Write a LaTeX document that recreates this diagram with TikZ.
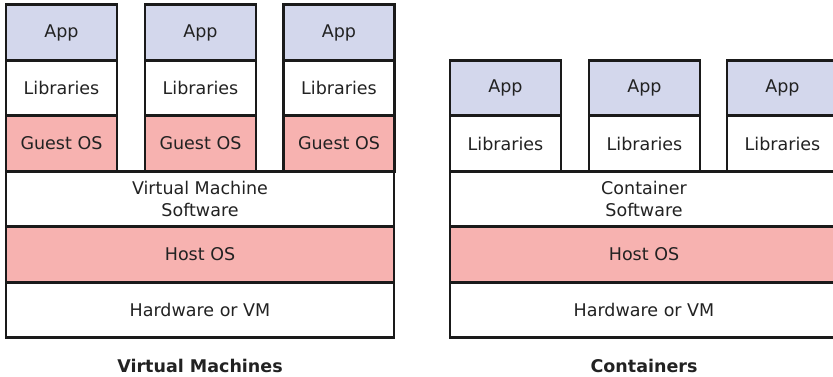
\documentclass[tikz,border=0pt]{standalone}
\usepackage{fontspec}
\setmainfont{DejaVu Sans}
\definecolor{linec}{HTML}{1A1A1A}
\definecolor{appc}{HTML}{D3D7EC}
\definecolor{osc}{HTML}{F7B2B0}
\definecolor{txtc}{HTML}{222222}
\begin{document}
\begin{tikzpicture}[x=1pt,y=-1pt,
  layer/.style={draw=linec, line width=2.6pt, rectangle, inner sep=0pt, outer sep=0pt,
    text=txtc, font=\fontsize{17.5}{22}\selectfont, align=center},
  col/.style={layer, minimum width=111pt, minimum height=55.5pt},
  wide/.style={layer, minimum width=388pt, minimum height=55.5pt},
  appbox/.style={col, fill=appc},
  libbox/.style={col, fill=white},
  guestbox/.style={col, fill=osc},
  whitewide/.style={wide, fill=white},
  hostwide/.style={wide, fill=osc},
  caption/.style={font=\bfseries\fontsize{17.5}{22}\selectfont, text=txtc}]
\useasboundingbox (0,0) rectangle (833,376);
% Virtual machines stack
\node[hostwide] (vmhost) at (200,254.5) {Host OS};
\node[whitewide] (vmhw) at (200,310) {Hardware or VM};
\node[whitewide] (vmsw) at (200,199) {Virtual Machine\\Software};
\foreach \i/\x in {1/61.5, 2/200.5, 3/339} {
  \node[appbox] (vmapp\i) at (\x,32.5) {App};
  \node[libbox] (vmlib\i) at (\x,88) {Libraries};
  \node[guestbox] (vmos\i) at (\x,143.5) {Guest OS};
}
\node[caption] (vmcap) at (200,366) {Virtual Machines};
% Containers stack
\node[hostwide] (cthost) at (644,254.5) {Host OS};
\node[whitewide] (cthw) at (644,310) {Hardware or VM};
\node[whitewide] (ctsw) at (644,199) {Container\\Software};
\foreach \i/\x in {1/505.5, 2/644.5, 3/782.5} {
  \node[appbox] (ctapp\i) at (\x,88) {App};
  \node[libbox] (ctlib\i) at (\x,143.5) {Libraries};
}
\node[caption] (ctcap) at (644,366) {Containers};
\end{tikzpicture}
\end{document}
